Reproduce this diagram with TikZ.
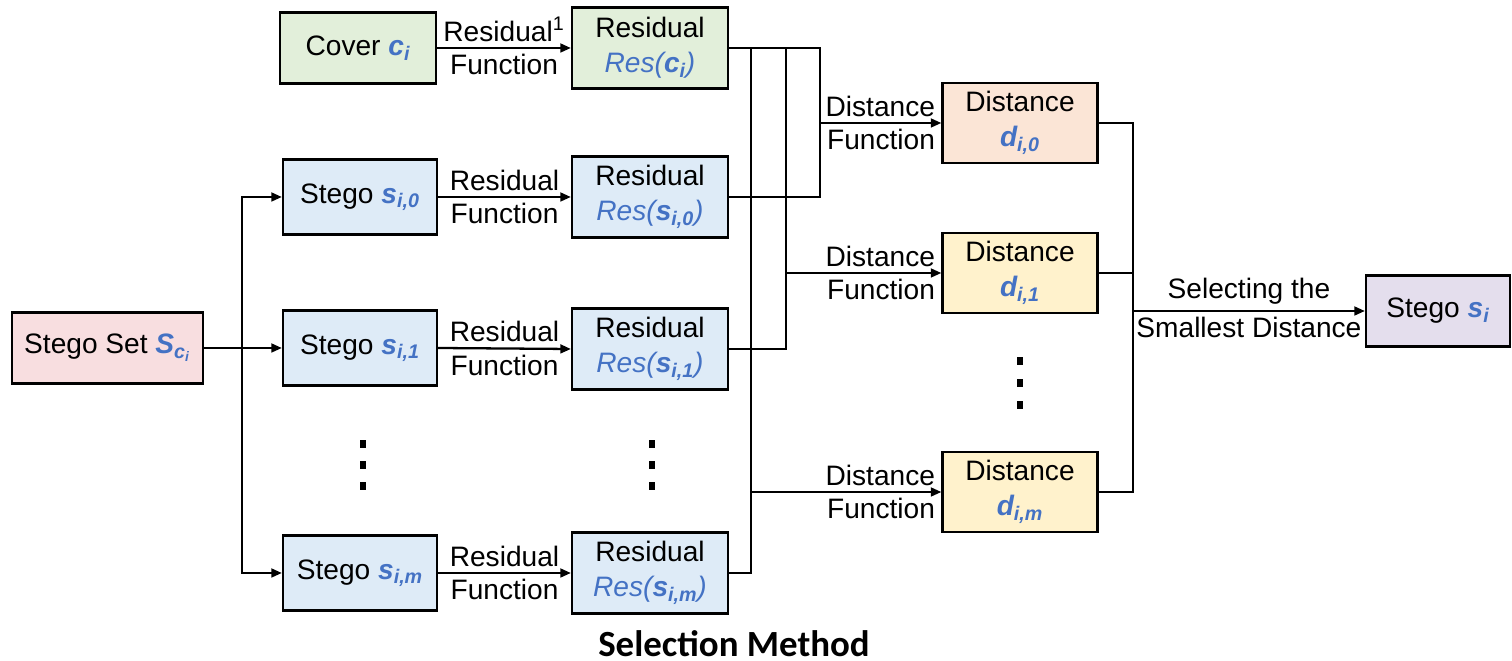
\documentclass[tikz,border=0pt]{standalone}
\usepackage{fontspec}
\setmainfont{Liberation Sans}
\newfontfamily\titlefont{Carlito}
\usetikzlibrary{arrows.meta}

\definecolor{varblue}{RGB}{68,114,196}
\definecolor{setpink}{RGB}{248,222,224}
\definecolor{covergreen}{RGB}{226,239,218}
\definecolor{stegoblue}{RGB}{222,235,247}
\definecolor{distorange}{RGB}{251,229,214}
\definecolor{distyellow}{RGB}{255,242,204}
\definecolor{outpurple}{RGB}{228,222,237}

% bold italic variable with subscript
\newcommand{\bvar}[2]{\textcolor{varblue}{\bfseries\itshape #1\textsubscript{#2}}}
% residual of a variable
\newcommand{\resvar}[2]{\textcolor{varblue}{\itshape Res({\bfseries #1\textsubscript{#2}})}}

\begin{document}
\begin{tikzpicture}[x=0.02cm,y=-0.02cm,
    every node/.style={font=\fontsize{16}{20}\selectfont},
    box/.style={draw,line width=1.3pt,align=center,inner sep=2pt},
    stegobox/.style={box,fill=stegoblue,minimum width=3.08cm,minimum height=1.5cm},
    resbox/.style={box,minimum width=3.12cm,minimum height=1.62cm},
    distbox/.style={box,minimum width=3.1cm,minimum height=1.6cm},
    wire/.style={line width=1.3pt},
    arr/.style={wire,-{Triangle[length=6pt,width=5pt]}},
    lab/.style={inner sep=3pt},
    dlabup/.style={pos=1,anchor=south east,inner sep=3pt},
    dlabdown/.style={pos=1,anchor=north east,inner sep=3pt}]
    \useasboundingbox (0,0) rectangle (1512,661);

    % Eingang
    \node[box,fill=setpink,minimum width=3.82cm,minimum height=1.42cm] (set) at (107.5,348) {Stego Set \textcolor{varblue}{\bfseries\itshape S\textsubscript{c\textsubscript{i}}}};
    \node[box,fill=covergreen,minimum width=3.12cm,minimum height=1.42cm] (cover) at (358,48) {Cover \bvar{c}{i}};

    % Stegos
    \node[stegobox] (stego0) at (360,197) {Stego \bvar{s}{i,0}};
    \node[stegobox] (stego1) at (360,348) {Stego \bvar{s}{i,1}};
    \node[stegobox] (stegom) at (360,573) {Stego \bvar{s}{i,m}};

    % Residuen
    \node[resbox,fill=covergreen] (resc) at (650,48) {Residual\\\textcolor{varblue}{\itshape Res({\bfseries c\textsubscript{i}})}};
    \node[resbox,fill=stegoblue] (res0) at (650,197) {Residual\\\resvar{s}{i,0}};
    \node[resbox,fill=stegoblue] (res1) at (650,349) {Residual\\\resvar{s}{i,1}};
    \node[resbox,fill=stegoblue] (resm) at (650,573) {Residual\\\resvar{s}{i,m}};

    % Distanzen
    \node[distbox,fill=distorange] (dist0) at (1020,123) {Distance\\\bvar{d}{i,0}};
    \node[distbox,fill=distyellow] (dist1) at (1020,273) {Distance\\\bvar{d}{i,1}};
    \node[distbox,fill=distyellow] (distm) at (1020,492) {Distance\\\bvar{d}{i,m}};

    % Ausgang
    \node[box,fill=outpurple,minimum width=2.88cm,minimum height=1.42cm] (out) at (1438,311) {Stego \bvar{s}{i}};

    % Verzweigung links
    \coordinate (split) at (242,348);
    \draw[wire] (set.east) -- (split);
    \draw[arr] (split) |- (stego0.west);
    \draw[arr] (split) -- (stego1.west);
    \draw[arr] (split) |- (stegom.west);

    % Residual Function
    \draw[arr] (cover.east) -- node[lab,above]{Residual\textsuperscript{1}} node[lab,below]{Function} (resc.west);
    \draw[arr] (stego0.east) -- node[lab,above]{Residual} node[lab,below]{Function} (res0.west);
    \draw[arr] (stego1.east) -- node[lab,above]{Residual} node[lab,below]{Function} (res1.west);
    \draw[arr] (stegom.east) -- node[lab,above]{Residual} node[lab,below]{Function} (resm.west);

    % Verbindungen zu den Distanzen
    \coordinate (j0) at (820,48);
    \coordinate (j1) at (786,48);
    \coordinate (j2) at (751,48);
    \draw[wire] (resc.east) -- (j0) |- (res0.east);
    \draw[wire] (j1) |- (res1.east);
    \draw[wire] (j2) |- (resm.east);
    \draw[arr] (j0 |- dist0.west) -- node[dlabup]{Distance} node[dlabdown]{Function} (dist0.west);
    \draw[arr] (j1 |- dist1.west) -- node[dlabup]{Distance} node[dlabdown]{Function} (dist1.west);
    \draw[arr] (j2 |- distm.west) -- node[dlabup]{Distance} node[dlabdown]{Function} (distm.west);

    % Auswahl
    \coordinate (merge) at (1133,311);
    \draw[wire] (dist0.east) -| (merge);
    \draw[wire] (distm.east) -| (merge);
    \draw[wire] (dist1.east) -- (dist1.east -| merge);
    \draw[arr] (merge) -- node[lab,above]{Selecting the} node[lab,below]{Smallest Distance} (out.west);

    % Punkte
    \foreach \y in {444,465,486} {
        \fill (360,{\y-4}) rectangle ++(6,8);
        \fill (649,{\y-4}) rectangle ++(6,8);
    }
    \foreach \y in {361,383,405}
        \fill (1017,{\y-4}) rectangle ++(6,8);

    \node[inner sep=0pt,font=\titlefont\bfseries\fontsize{21}{25}\selectfont] (title) at (734,644) {Selection Method};
\end{tikzpicture}
\end{document}
